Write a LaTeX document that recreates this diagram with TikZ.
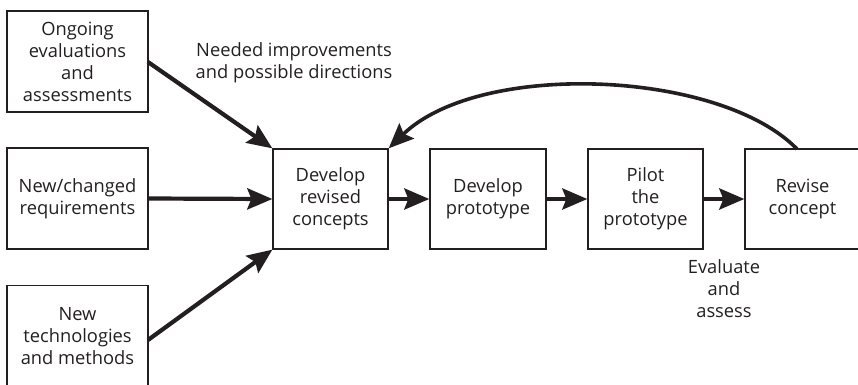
\documentclass[tikz,border=0pt]{standalone}
\usepackage{fontspec}
\setmainfont{Open Sans}
\usetikzlibrary{arrows.meta}
\definecolor{ink}{HTML}{231F20}
\begin{document}
\begin{tikzpicture}[x=1pt,y=-1pt,
  box/.style={draw=ink,line width=1.3pt,text=ink,align=center,inner sep=0pt,font=\fontsize{18.3}{22}\selectfont},
  lbl/.style={text=ink,align=center,inner sep=0pt,font=\fontsize{18.3}{22}\selectfont},
  arr/.style={draw=ink,line width=4.2pt,-{Stealth[length=25pt,width=21pt,inset=4pt]}}]
\useasboundingbox (0,0) rectangle (858,384);
\node[box,minimum width=141pt,minimum height=101pt] (A) at (77.5,61.5) {Ongoing\\evaluations\\and\\assessments};
\node[box,minimum width=141pt,minimum height=101pt] (B) at (77.5,198.5) {New/changed\\requirements};
\node[box,minimum width=141pt,minimum height=101pt] (C) at (77.5,336) {New\\technologies\\and methods};
\node[box,minimum width=115pt,minimum height=100pt] (D) at (330.5,199) {Develop\\revised\\concepts};
\node[box,minimum width=116pt,minimum height=100pt] (E) at (488,199) {Develop\\prototype};
\node[box,minimum width=115pt,minimum height=100pt] (F) at (645.5,199) {Pilot\\the\\prototype};
\node[box,minimum width=115pt,minimum height=100pt] (G) at (802.5,199) {Revise\\concept};
\node[lbl] (L1) at (294,63) {Needed improvements\\and possible directions};
\node[lbl] (L2) at (724,289) {Evaluate\\and\\assess};
\coordinate (a1) at (148,62);
\coordinate (c1) at (148,340);
\draw[arr] (a1) -- (D.north west);
\draw[arr] (B.east) -- (D.west);
\draw[arr] (c1) -- (D.south west);
\draw[arr] (D.east) -- (E.west);
\draw[arr] (E.east) -- (F.west);
\draw[arr] (F.east) -- (G.west);
\coordinate (g1) at (797,149);
\draw[arr,line width=3.6pt] (g1) .. controls (720,70) and (480,60) .. (D.north east);
\end{tikzpicture}
\end{document}
